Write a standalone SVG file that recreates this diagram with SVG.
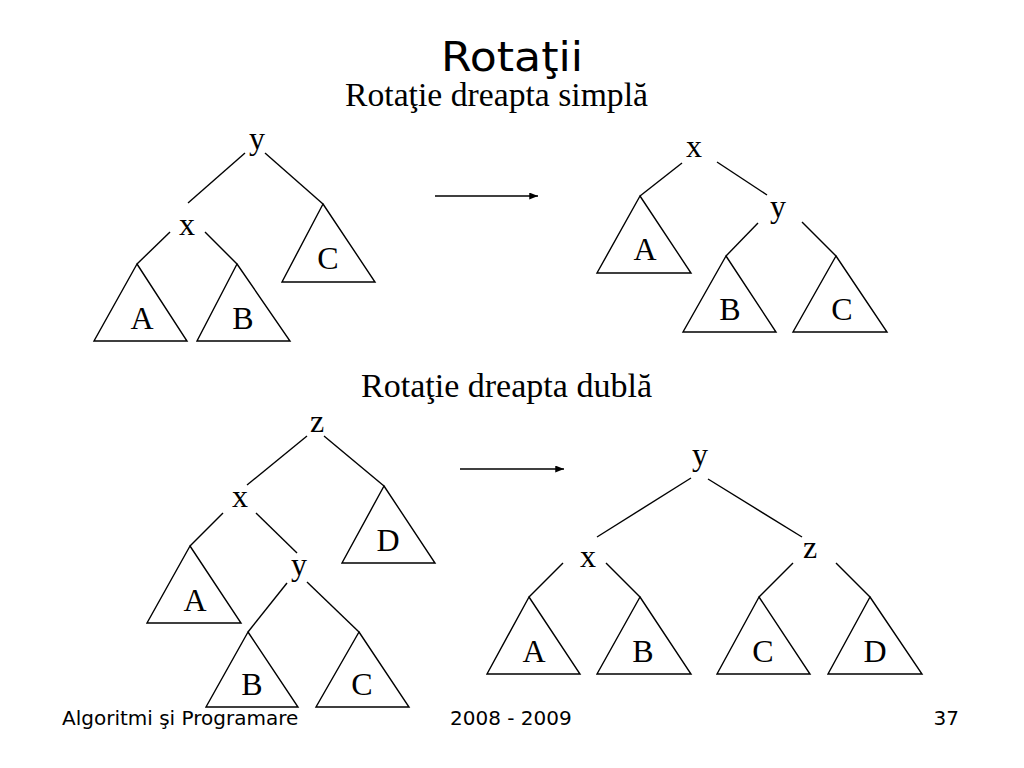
<svg xmlns="http://www.w3.org/2000/svg" width="1024" height="768" viewBox="0 0 1024 768">
<defs>
<style>
.bg{fill:#ffffff}
.e{stroke:#000;stroke-width:1.4;fill:none}
.t{stroke:#000;stroke-width:1.4;fill:none;stroke-linejoin:miter}
.lbl{font-family:"Liberation Serif","Times New Roman",serif;font-size:32px;fill:#000;text-anchor:middle}
.sub{font-family:"Liberation Serif","Times New Roman",serif;font-size:34px;fill:#000}
.title{font-family:"DejaVu Sans",Verdana,sans-serif;font-size:40px;fill:#000}
.foot{font-family:"DejaVu Sans",Verdana,sans-serif;font-size:20px;fill:#000}
</style>
<marker id="ah" viewBox="0 0 10 8" refX="10" refY="4" markerWidth="9" markerHeight="7" markerUnits="userSpaceOnUse" orient="auto">
<path d="M0,0 L10,4 L0,8 Z" fill="#000"/>
</marker>
</defs>
<rect class="bg" x="0" y="0" width="1024" height="768"/>

<g id="title">
<text class="title" x="441" y="71" textLength="142" lengthAdjust="spacingAndGlyphs">Rotaţii</text>
<text class="sub" x="345" y="106" textLength="303" lengthAdjust="spacingAndGlyphs">Rotaţie dreapta simplă</text>
<text class="sub" x="361" y="397" textLength="291" lengthAdjust="spacingAndGlyphs">Rotaţie dreapta dublă</text>
</g>

<g id="connectors">
<!-- top-left tree -->
<line class="e" x1="245" y1="153" x2="188" y2="203"/>
<line class="e" x1="265" y1="153" x2="323" y2="204"/>
<line class="e" x1="170" y1="232" x2="137" y2="264"/>
<line class="e" x1="205" y1="232" x2="237" y2="264"/>
<!-- top arrow -->
<line class="e" x1="435" y1="196" x2="538" y2="196" marker-end="url(#ah)"/>
<!-- top-right tree -->
<line class="e" x1="682" y1="163" x2="640" y2="196"/>
<line class="e" x1="717" y1="162" x2="767" y2="195"/>
<line class="e" x1="758" y1="223" x2="726" y2="256"/>
<line class="e" x1="802" y1="222" x2="836" y2="256"/>
<!-- bottom-left tree -->
<line class="e" x1="307" y1="436" x2="247" y2="485"/>
<line class="e" x1="324" y1="436" x2="384" y2="486"/>
<line class="e" x1="223" y1="513" x2="190" y2="546"/>
<line class="e" x1="256" y1="513" x2="297" y2="553"/>
<line class="e" x1="287" y1="583" x2="248" y2="632"/>
<line class="e" x1="307" y1="582" x2="359" y2="632"/>
<!-- bottom arrow -->
<line class="e" x1="460" y1="469" x2="564" y2="469" marker-end="url(#ah)"/>
<!-- bottom-right tree -->
<line class="e" x1="691" y1="478" x2="597" y2="537"/>
<line class="e" x1="708" y1="479" x2="802" y2="537"/>
<line class="e" x1="563" y1="563" x2="529" y2="597"/>
<line class="e" x1="606" y1="563" x2="640" y2="597"/>
<line class="e" x1="793" y1="563" x2="759" y2="597"/>
<line class="e" x1="836" y1="563" x2="870" y2="597"/>
</g>

<!-- top-left tree nodes -->
<g id="tl-y"><text class="lbl" x="257" y="149">y</text></g>
<g id="tl-x"><text class="lbl" x="187" y="235">x</text></g>
<g id="tl-C"><polygon class="t" points="323,204 375,282 282,282"/><text class="lbl" x="328" y="269">C</text></g>
<g id="tl-A"><polygon class="t" points="137,264 187,341 94,341"/><text class="lbl" x="142" y="329">A</text></g>
<g id="tl-B"><polygon class="t" points="237,264 290,341 197,341"/><text class="lbl" x="243" y="329">B</text></g>

<!-- top-right tree nodes -->
<g id="tr-x"><text class="lbl" x="694" y="157">x</text></g>
<g id="tr-y"><text class="lbl" x="778" y="217">y</text></g>
<g id="tr-A"><polygon class="t" points="640,196 691,273 597,273"/><text class="lbl" x="645" y="260">A</text></g>
<g id="tr-B"><polygon class="t" points="726,256 776,332 683,332"/><text class="lbl" x="730" y="320">B</text></g>
<g id="tr-C"><polygon class="t" points="836,256 887,332 793,332"/><text class="lbl" x="842" y="320">C</text></g>

<!-- bottom-left tree nodes -->
<g id="bl-z"><text class="lbl" x="317" y="432">z</text></g>
<g id="bl-x"><text class="lbl" x="240" y="507">x</text></g>
<g id="bl-y"><text class="lbl" x="299" y="575">y</text></g>
<g id="bl-D"><polygon class="t" points="384,486 435,563 342,563"/><text class="lbl" x="388" y="551">D</text></g>
<g id="bl-A"><polygon class="t" points="190,546 241,623 147,623"/><text class="lbl" x="195" y="611">A</text></g>
<g id="bl-B"><polygon class="t" points="248,632 298,707 206,707"/><text class="lbl" x="252" y="695">B</text></g>
<g id="bl-C"><polygon class="t" points="359,632 409,707 316,707"/><text class="lbl" x="362" y="695">C</text></g>

<!-- bottom-right tree nodes -->
<g id="br-y"><text class="lbl" x="700" y="465">y</text></g>
<g id="br-x"><text class="lbl" x="588" y="567">x</text></g>
<g id="br-z"><text class="lbl" x="810" y="558">z</text></g>
<g id="br-A"><polygon class="t" points="529,597 580,674 487,674"/><text class="lbl" x="534" y="662">A</text></g>
<g id="br-B"><polygon class="t" points="640,597 691,674 597,674"/><text class="lbl" x="643" y="662">B</text></g>
<g id="br-C"><polygon class="t" points="759,597 810,674 717,674"/><text class="lbl" x="763" y="662">C</text></g>
<g id="br-D"><polygon class="t" points="870,597 922,674 828,674"/><text class="lbl" x="875" y="662">D</text></g>

<g id="footer">
<text class="foot" x="62" y="725">Algoritmi şi Programare</text>
<text class="foot" x="450" y="725">2008 - 2009</text>
<text class="foot" x="959" y="725" text-anchor="end">37</text>
</g>
</svg>
